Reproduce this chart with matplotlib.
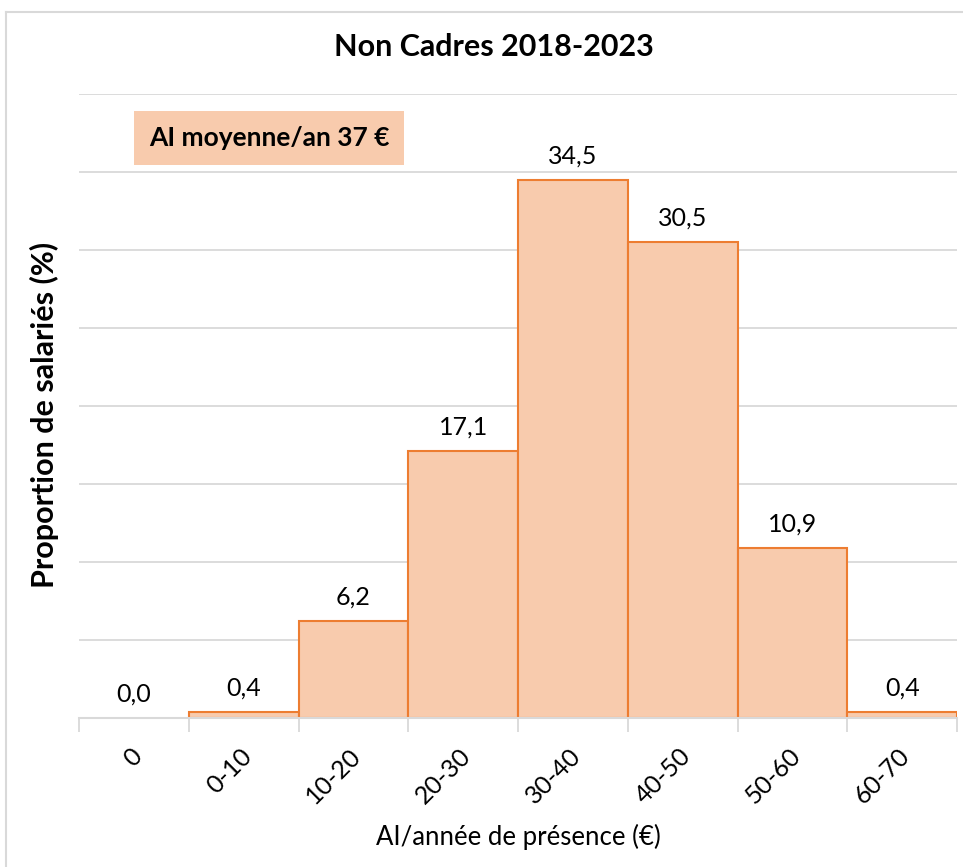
import matplotlib
matplotlib.use("Agg")
import matplotlib.pyplot as plt
from matplotlib.lines import Line2D
import matplotlib.transforms as mtransforms
import numpy as np

categories = ["0", "0-10", "10-20", "20-30", "30-40", "40-50", "50-60", "60-70"]
values = [0.0, 0.4, 6.2, 17.1, 34.5, 30.5, 10.9, 0.4]
title = "Non Cadres 2018-2023"
ylabel = "Proportion de salariés (%)"
xlabel = "AI/année de présence (€)"
note = "AI moyenne/an 37 €"

FILL = "#F8CBAD"
EDGE = "#ED7D31"
GRID = "#D9D9D9"
FONT = ["Lato", "DejaVu Sans"]
plt.rcParams["font.family"] = FONT

fig = plt.figure(figsize=(9.63, 8.67), dpi=100)
ax = fig.add_axes([79/963, 1-718/867, (957-79)/963, (718-94)/867])

x = np.arange(len(categories))
bars = ax.bar(x, values, width=1.0, color=FILL, edgecolor=EDGE, linewidth=1.5, zorder=3)
for b, v in zip(bars, values):
    if v == 0:
        b.set_edgecolor("none")
for xi, v in zip(x, values):
    ax.text(xi, v + 0.8, f"{v:.1f}".replace(".", ","), ha="center", va="bottom",
            fontsize=18, color="#000000", zorder=4)

ax.set_xlim(-0.5, len(categories) - 0.5)
ax.set_ylim(0, 40)
ax.set_yticks(np.arange(5, 45, 5))
ax.yaxis.grid(True, color=GRID, linewidth=1.3, zorder=0)
ax.tick_params(axis="y", length=0, labelleft=False)
for s in ["top", "right", "left"]:
    ax.spines[s].set_visible(False)
ax.spines["bottom"].set_color(GRID)
ax.spines["bottom"].set_linewidth(1.5)
ax.spines["bottom"].set_zorder(4)

ax.set_xticks(np.arange(-0.5, len(categories), 1.0))
ax.tick_params(axis="x", which="major", length=10, width=1.3, color=GRID, labelbottom=False)
ax.set_xticks(x, minor=True)
ax.set_xticklabels(categories, minor=True, rotation=45, ha="right", va="top",
                   rotation_mode="anchor", fontsize=18)
ax.tick_params(axis="x", which="minor", length=0, pad=19)
offset = mtransforms.ScaledTranslation(-4/100, 0, fig.dpi_scale_trans)
for lab in ax.get_xticklabels(minor=True):
    lab.set_transform(lab.get_transform() + offset)

ax.set_xlabel(xlabel, fontsize=18.5, labelpad=0)
ax.xaxis.set_label_coords(0.5, -0.17)
ax.set_ylabel(ylabel, fontsize=22, fontweight="bold")
ax.yaxis.set_label_coords(-0.023, 0.486)

fig.text(494/963, 1-47/867, title, ha="center", va="center", fontsize=22, fontweight="bold")

# note box
fig.text(269/963, 1-138/867, note, ha="center", va="center", fontsize=19, fontweight="bold",
         bbox=dict(boxstyle="square,pad=0.55", facecolor=FILL, edgecolor="none"))

# outer frame (left and top edges)
fig.add_artist(Line2D([6/963, 6/963], [0, 1-12/867], color=GRID, linewidth=1.5, transform=fig.transFigure))
fig.add_artist(Line2D([6/963, 1], [1-12/867, 1-12/867], color=GRID, linewidth=1.5, transform=fig.transFigure))

fig.savefig("out.png", dpi=100)
